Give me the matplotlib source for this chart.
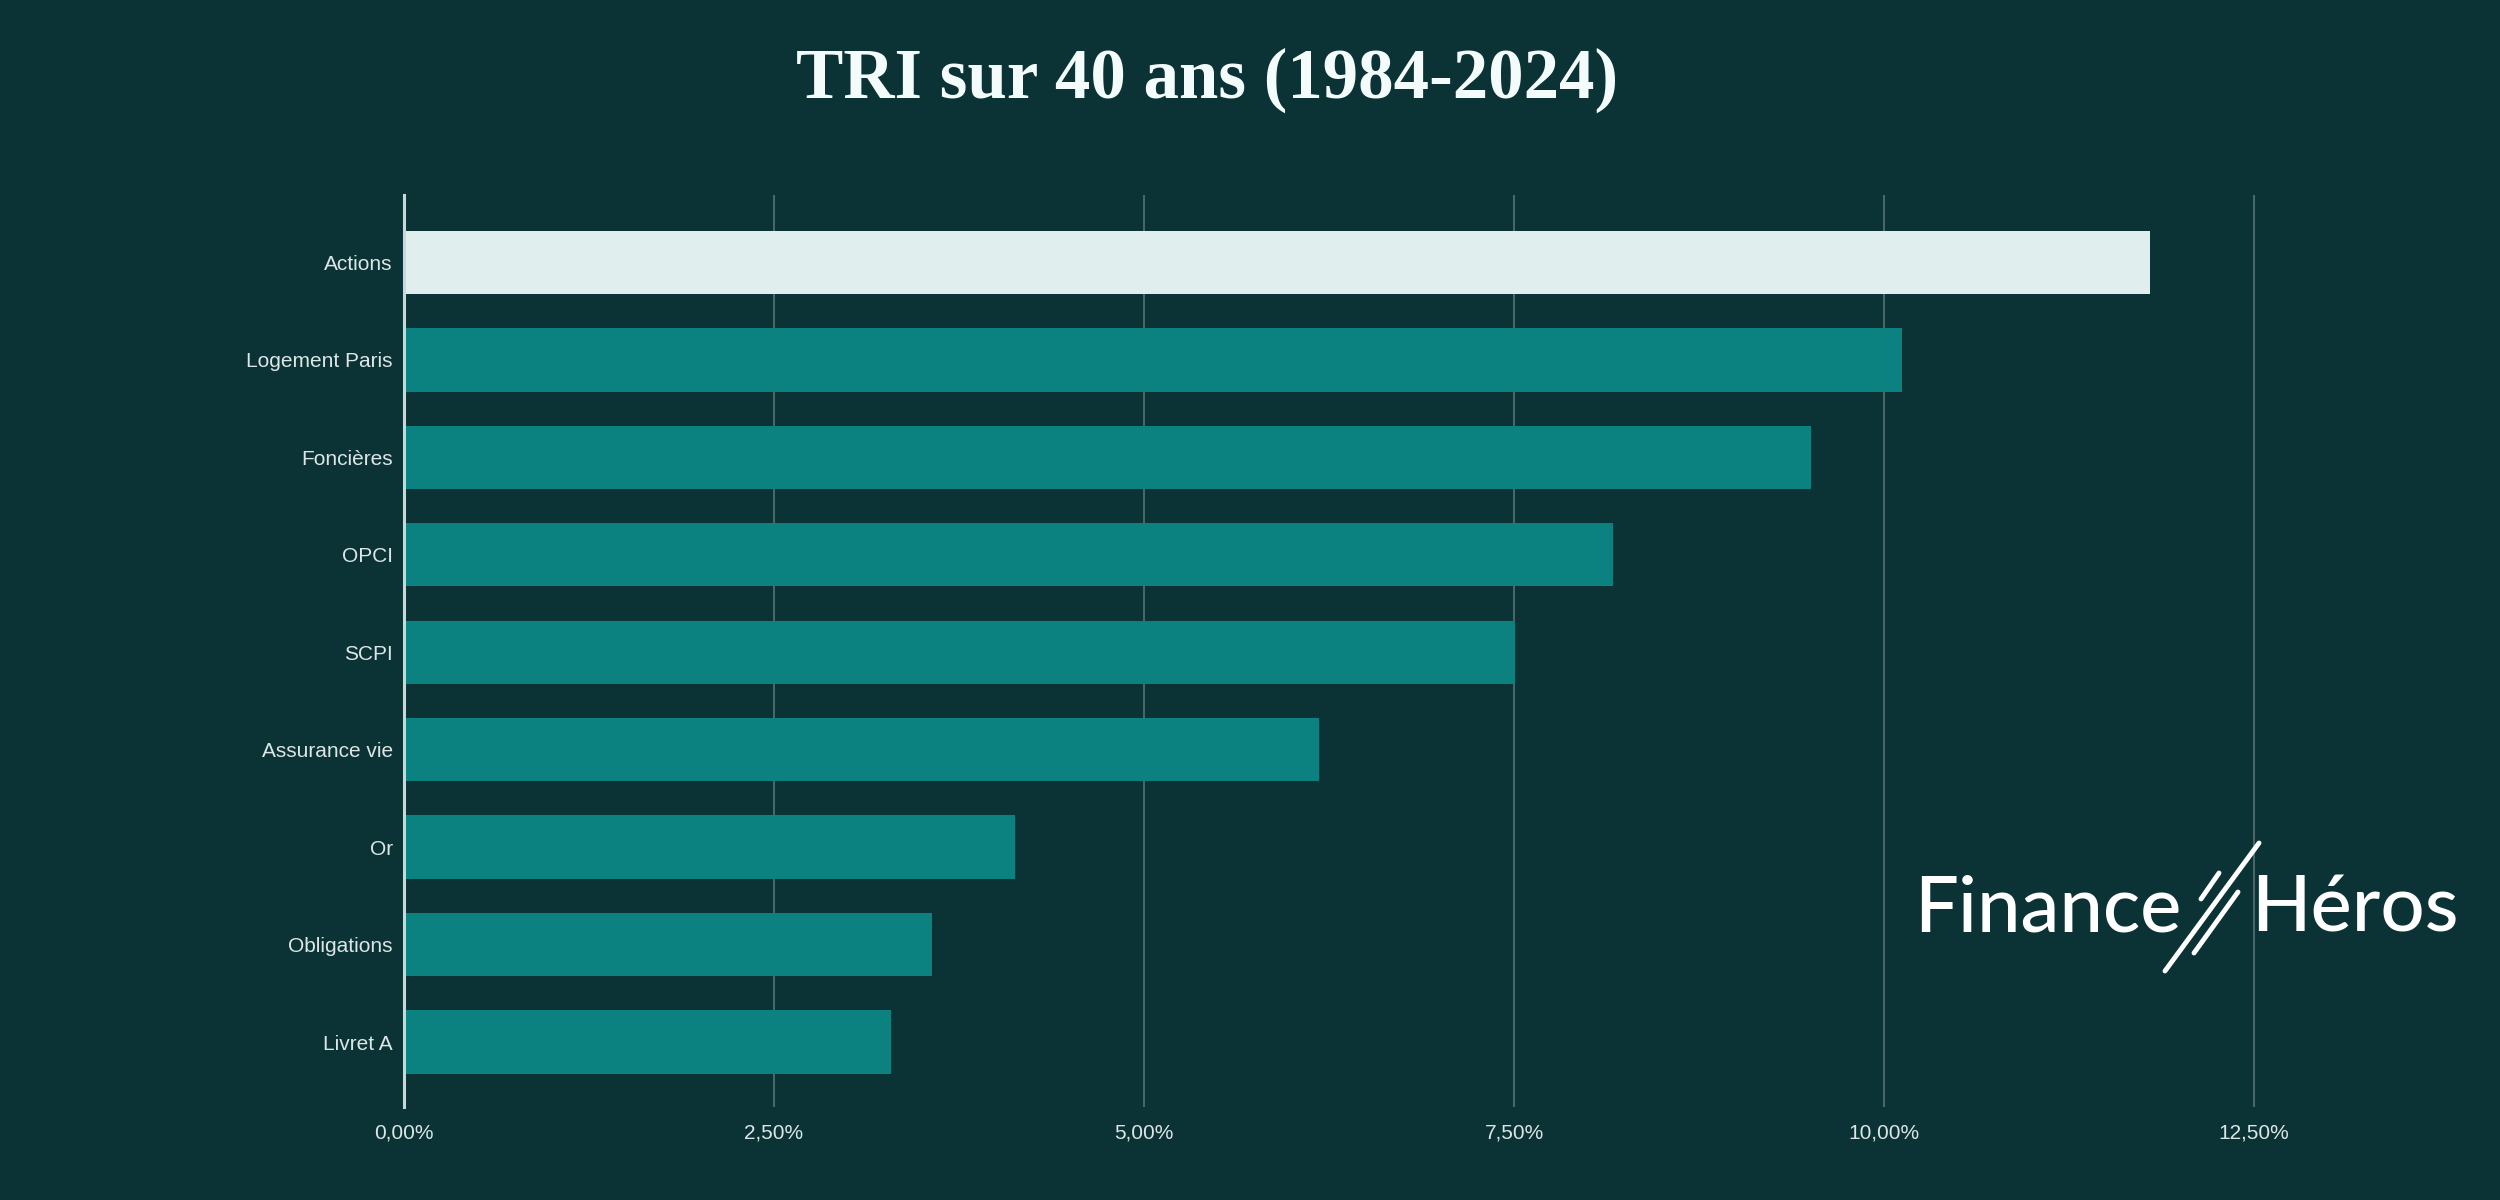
import matplotlib
matplotlib.use("Agg")
import matplotlib.pyplot as plt
from matplotlib.lines import Line2D
from matplotlib.ticker import FuncFormatter

BG = "#0b3335"
TEAL = "#0b8280"
HIGHLIGHT = "#e1eeee"
GRID = "#4a6a6a"
TEXT = "#dce6e6"

categories = ["Actions", "Logement Paris", "Foncières", "OPCI", "SCPI",
              "Assurance vie", "Or", "Obligations", "Livret A"]
tri_values = [11.80, 10.12, 9.51, 8.17, 7.51, 6.18, 4.13, 3.57, 3.29]
x_ticks = [0, 2.5, 5, 7.5, 10, 12.5]

fig = plt.figure(figsize=(25, 12), dpi=100, facecolor=BG)
ax = fig.add_axes([0.1616, 0.0775, 0.7992, 0.76])
ax.set_facecolor(BG)

colors = [HIGHLIGHT] + [TEAL] * (len(categories) - 1)
y_pos = list(range(len(categories)))
ax.barh(y_pos, tri_values, height=0.65, color=colors, zorder=3)

ax.set_xlim(0, 13.5)
ax.set_ylim(len(categories) - 1 + 0.667, -0.693)

ax.set_xticks(x_ticks)
ax.xaxis.set_major_formatter(FuncFormatter(lambda v, p: f"{v:.2f}%".replace(".", ",")))
ax.set_yticks(y_pos)
ax.set_yticklabels(categories)

ax.grid(axis="x", color=GRID, linewidth=1.4, zorder=0)
ax.grid(axis="y", visible=False)
ax.set_axisbelow(True)

for s in ["top", "right", "bottom"]:
    ax.spines[s].set_visible(False)
ax.spines["left"].set_color("#c9d7d7")
ax.spines["left"].set_linewidth(2.2)
ax.spines["left"].set_zorder(4)

ax.tick_params(axis="both", length=0, colors=TEXT, labelsize=15)
ax.tick_params(axis="y", pad=8)
ax.tick_params(axis="x", pad=12)
for lab in ax.get_xticklabels() + ax.get_yticklabels():
    lab.set_fontfamily("Liberation Sans")

# titre
fig.text(0.483, 0.933, "TRI sur 40 ans (1984-2024)", ha="center", va="center",
         fontsize=51, fontweight="bold", family="Liberation Serif", color="#f4fbfb")

# logo Finance Héros
fig.text(1914 / 2500, 1 - 931 / 1200, "Finance", ha="left", va="baseline",
         fontsize=56, fontweight="medium", family="Lato", color="white")
fig.text(2251 / 2500, 1 - 931 / 1200, "Héros", ha="left", va="baseline",
         fontsize=56, fontweight="medium", family="Lato", color="white")
slashes = [((2165, 971), (2259, 843)),
           ((2194, 953), (2238, 892)),
           ((2201, 899), (2219, 873))]
for (x0, y0), (x1, y1) in slashes:
    fig.add_artist(Line2D([x0 / 2500, x1 / 2500], [1 - y0 / 1200, 1 - y1 / 1200],
                          transform=fig.transFigure, color="white",
                          linewidth=3.5, solid_capstyle="round"))

plt.savefig("out.png", dpi=100, facecolor=BG)
